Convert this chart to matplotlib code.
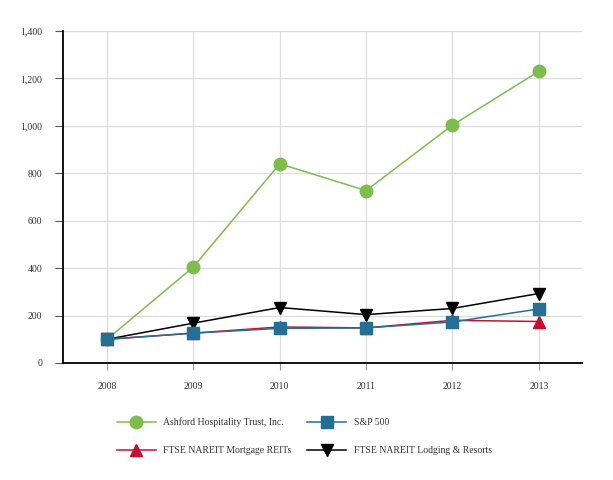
import numpy as np
import matplotlib.pyplot as plt

plt.rcParams['font.family'] = ['Liberation Serif', 'DejaVu Serif']

# Data
years = ['2008', '2009', '2010', '2011', '2012', '2013']
ashford = [100, 405, 840, 727, 1003, 1230]
sp500 = [100, 126, 146, 148, 173, 228]
mortgage = [100, 126, 152, 148, 180, 175]
lodging = [100, 168, 234, 204, 230, 293]

x = np.arange(len(years))

fig = plt.figure(figsize=(6.13, 4.8), dpi=100)
ax = fig.add_axes([63/613, 1 - 363/480, (582-63)/613, (363-31)/480])

ax.plot(x, ashford, color='#7dbd4c', marker='o', markersize=9, linewidth=1.1,
        label='Ashford Hospitality Trust, Inc.', zorder=3)
ax.plot(x, mortgage, color='#c8102e', marker='^', markersize=9, linewidth=1.1,
        label='FTSE NAREIT Mortgage REITs', zorder=3)
ax.plot(x, sp500, color='#236f96', marker='s', markersize=9, linewidth=1.1,
        label='S&P 500', zorder=4)
ax.plot(x, lodging, color='black', marker='v', markersize=9, linewidth=1.1,
        label='FTSE NAREIT Lodging & Resorts', zorder=2)

ax.set_xlim(-0.51, 5.5)
ax.set_ylim(0, 1400)
ax.set_xticks(x)
ax.set_xticklabels(years)
ax.set_yticks(np.arange(0, 1401, 200))
ax.set_yticklabels([f'{v:,}' for v in range(0, 1401, 200)])

ax.grid(True, color='#dddddd', linewidth=0.9)
ax.set_axisbelow(True)
for s in ['top', 'right']:
    ax.spines[s].set_visible(False)
ax.spines['left'].set_linewidth(1.3)
ax.spines['bottom'].set_linewidth(1.3)
ax.tick_params(axis='y', length=6, width=0.8, color='#555555', labelsize=7,
               pad=9, labelcolor='#333333')
ax.tick_params(axis='x', length=5, width=0.8, color='#999999', labelsize=7,
               pad=9, labelcolor='#333333')

# column-first fill: Ashford, Mortgage | S&P, Lodging
fig.legend(loc='upper left', bbox_to_anchor=(108/613, 1 - 409/480),
           ncol=2, frameon=False, fontsize=7, handlelength=4,
           columnspacing=1.6, labelspacing=1.9, labelcolor='#333333')

fig.savefig('out.png', dpi=100)
